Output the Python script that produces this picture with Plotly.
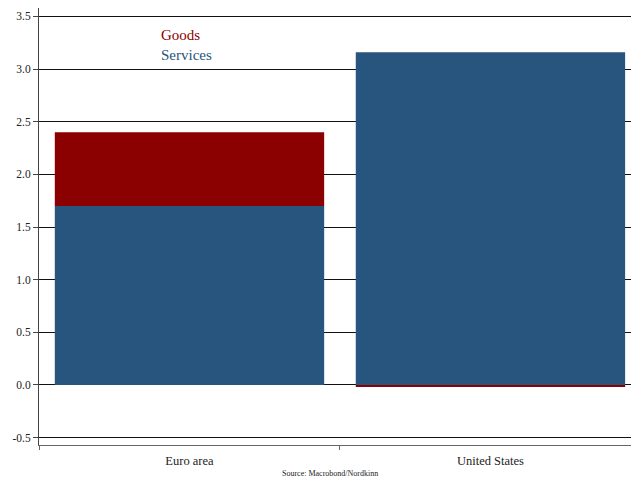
import plotly.graph_objects as go

categories = ["Euro area", "United States"]
services = [1.70, 3.16]
goods = [0.70, -0.02]
tick_vals = [-0.5, 0.0, 0.5, 1.0, 1.5, 2.0, 2.5, 3.0, 3.5]
tick_text = ["-0.5", "0.0", "0.5", "1.0", "1.5", "2.0", "2.5", "3.0", "3.5"]

BLUE = "#27557d"
RED = "#8b0000"
FONT = "Liberation Serif"

W, H = 631, 477
ML, MR, MT, MB = 39, 0, 8, 32

fig = go.Figure()
fig.add_trace(go.Bar(x=categories, y=services, name="Services", marker_color=BLUE,
                     marker_line_width=0))
fig.add_trace(go.Bar(x=categories, y=goods, name="Goods", marker_color=RED,
                     marker_line_width=0))

fig.update_layout(
    width=W, height=H,
    barmode="relative",
    bargap=0.105,
    showlegend=False,
    plot_bgcolor="white",
    paper_bgcolor="white",
    margin=dict(l=ML, r=MR, t=MT, b=MB),
    font=dict(family=FONT, color="#222222"),
    yaxis=dict(
        range=[-0.57, 3.58],
        tickvals=tick_vals, ticktext=tick_text,
        showgrid=True, gridcolor="#111111", gridwidth=1,
        zeroline=False,
        showline=True, linecolor="#444444", linewidth=1,
        ticks="outside", ticklen=5, tickcolor="#444444",
        tickfont=dict(size=11.5, family=FONT, color="#222222"),
    ),
    xaxis=dict(
        range=[-0.5, 1.467],
        showgrid=False,
        showline=True, linecolor="#666666", linewidth=1,
        ticks="outside", ticklen=4, tickcolor="#666666",
        tickson="boundaries",
        ticklabelstandoff=4,
        tickfont=dict(size=12.5, family=FONT, color="#222222"),
    ),
)

plot_w = W - ML - MR
plot_h = H - MT - MB
def px_to_paper(px, py):
    return (px - ML) / plot_w, 1 - (py - MT) / plot_h

gx, gy = px_to_paper(159, 35)
sx, sy = px_to_paper(159, 55)
srx, sry = px_to_paper(330, 474)
fig.add_annotation(text="Goods", x=gx, y=gy, xref="paper", yref="paper", showarrow=False,
                   xanchor="left", yanchor="middle", font=dict(size=15, color=RED, family=FONT))
fig.add_annotation(text="Services", x=sx, y=sy, xref="paper", yref="paper", showarrow=False,
                   xanchor="left", yanchor="middle", font=dict(size=15, color=BLUE, family=FONT))
fig.add_annotation(text="Source: Macrobond/Nordkinn", x=srx, y=sry, xref="paper", yref="paper",
                   showarrow=False, xanchor="center", yanchor="middle",
                   font=dict(size=8, color="#222222", family=FONT))

fig.write_html("out.html", config={"displayModeBar": False},
               post_script="document.body.style.margin='0';document.body.style.overflow='hidden';")
